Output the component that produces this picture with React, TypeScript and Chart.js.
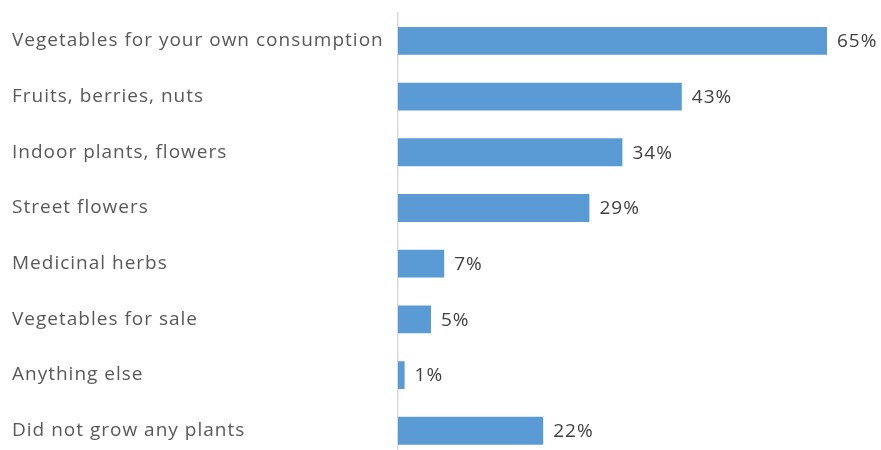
import React, { useEffect, useRef } from "react";
import { Chart, registerables } from "chart.js";

Chart.register(...registerables);

const categories = [
  "Vegetables for your own consumption",
  "Fruits, berries, nuts",
  "Indoor plants, flowers",
  "Street flowers",
  "Medicinal herbs",
  "Vegetables for sale",
  "Anything else",
  "Did not grow any plants",
];
const values = [65, 43, 34, 29, 7, 5, 1, 22];
const valueLabels = ["65%", "43%", "34%", "29%", "7%", "5%", "1%", "22%"];

const FONT = "'Open Sans', sans-serif";

const spacingPlugin = {
  id: "spacing",
  beforeDraw(chart: any) {
    (chart.ctx as any).letterSpacing = "1px";
  },
  afterDraw(chart: any) {
    (chart.ctx as any).letterSpacing = "0px";
  },
};

const valueLabelPlugin = {
  id: "valueLabels",
  afterDatasetsDraw(chart: any) {
    const ctx = chart.ctx;
    const meta = chart.getDatasetMeta(0);
    ctx.save();
    ctx.letterSpacing = "1px";
    ctx.font = `19px ${FONT}`;
    ctx.fillStyle = "#404040";
    ctx.textAlign = "left";
    ctx.textBaseline = "middle";
    meta.data.forEach((bar: any, i: number) => {
      ctx.fillText(valueLabels[i], bar.x + 10, bar.y + 1);
    });
    ctx.restore();
  },
};

export default function App() {
  const ref = useRef<HTMLCanvasElement | null>(null);
  useEffect(() => {
    if (!ref.current) return;
    const chart = new Chart(ref.current, {
      type: "bar",
      data: {
        labels: categories,
        datasets: [
          {
            data: values,
            backgroundColor: "#5b9bd5",
            borderWidth: 0,
            barPercentage: 0.5,
            categoryPercentage: 1,
          },
        ],
      },
      options: {
        indexAxis: "y",
        animation: false,
        responsive: false,
        maintainAspectRatio: false,
        layout: { padding: { left: 12, right: 21, top: 13, bottom: 2 } },
        plugins: {
          legend: { display: false },
          tooltip: { enabled: false },
        },
        scales: {
          x: {
            min: 0,
            max: 70,
            display: false,
            grid: { display: false },
          },
          y: {
            grid: { display: false, drawTicks: false },
            border: { display: true, color: "#d9d9d9", width: 1.5 },
            ticks: {
              crossAlign: "far",
              color: "#595959",
              font: { family: FONT, size: 19 },
              padding: 0,
            },
            afterFit(scale: any) {
              scale.width = 386;
            },
          },
        },
      },
      plugins: [spacingPlugin, valueLabelPlugin],
    });
    return () => chart.destroy();
  }, []);
  return (
    <div
      style={{
        position: "fixed",
        left: 0,
        top: 0,
        width: 881,
        height: 450,
        overflow: "hidden",
        background: "#fff",
      }}
    >
      <canvas ref={ref} width={881} height={470} style={{ display: "block" }} />
    </div>
  );
}
